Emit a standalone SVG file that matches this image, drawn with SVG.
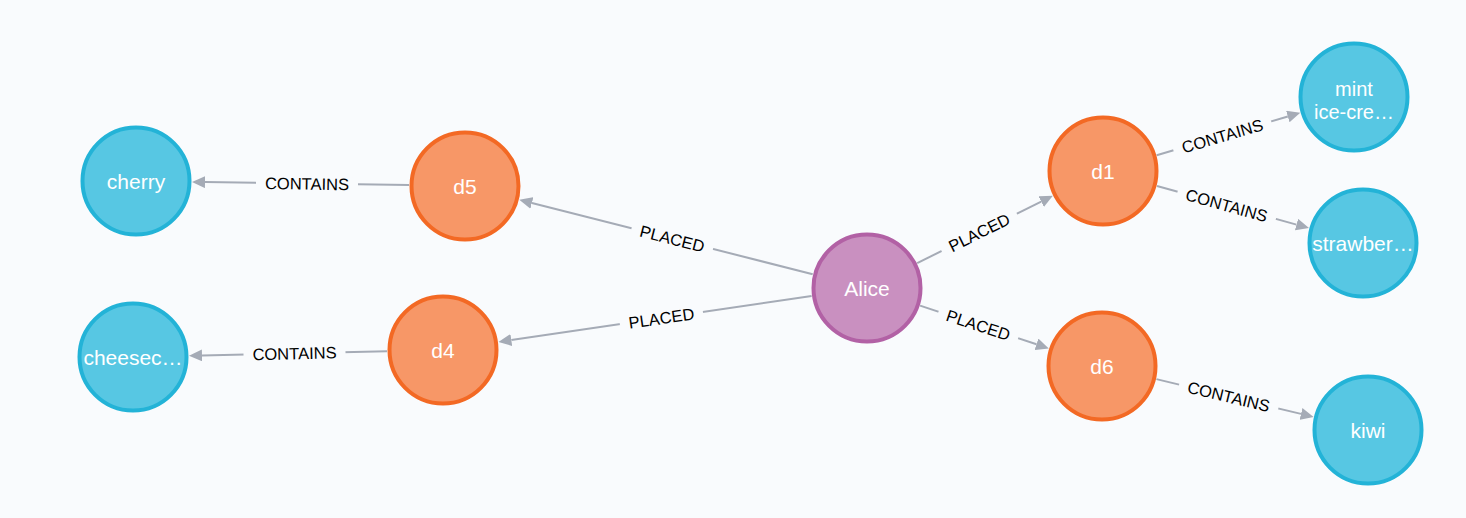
<svg xmlns="http://www.w3.org/2000/svg" width="1466" height="518" viewBox="0 0 1466 518">
<style>
.bg{fill:#f9fbfd}
.edge{stroke:#a5abb6;stroke-width:2;fill:none}
.lbl{font-family:"Liberation Sans",Arial,sans-serif;font-size:16.5px;fill:#000;text-anchor:middle}
.gap{fill:#f9fbfd}
.node text{font-family:"Liberation Sans",Arial,sans-serif;font-size:21px;fill:#fff;text-anchor:middle}
.node text.two{font-size:20px}
.person circle{fill:#c990c0;stroke:#b261a5;stroke-width:4}
.order circle{fill:#f79767;stroke:#f36924;stroke-width:4}
.item circle{fill:#57c7e3;stroke:#23b3d7;stroke-width:4}
</style>
<defs>
<marker id="arr" markerUnits="userSpaceOnUse" markerWidth="13" markerHeight="12" viewBox="0 -6 13 12" refX="0" refY="0" orient="auto">
<path d="M0,-6 L13,0 L0,6 z" fill="#a5abb6"/>
</marker>
</defs>
<rect class="bg" x="0" y="0" width="1466" height="518"/>
<g id="connectors">
<line class="edge" x1="812.7" y1="274.2" x2="531.9" y2="203.0" marker-end="url(#arr)"/>
<line class="edge" x1="811.6" y1="296.1" x2="511.3" y2="340.0" marker-end="url(#arr)"/>
<line class="edge" x1="917.2" y1="263.1" x2="1041.2" y2="201.6" marker-end="url(#arr)"/>
<line class="edge" x1="920.1" y1="305.6" x2="1036.5" y2="344.3" marker-end="url(#arr)"/>
<line class="edge" x1="409" y1="185.1" x2="205" y2="182.1" marker-end="url(#arr)"/>
<line class="edge" x1="387" y1="351.3" x2="202" y2="355.4" marker-end="url(#arr)"/>
<line class="edge" x1="1156.7" y1="155.2" x2="1287.8" y2="116.5" marker-end="url(#arr)"/>
<line class="edge" x1="1157" y1="186" x2="1296.5" y2="224.6" marker-end="url(#arr)"/>
<line class="edge" x1="1156.4" y1="379.1" x2="1301" y2="413.9" marker-end="url(#arr)"/>
<g transform="translate(672.3,238.6) rotate(14.24)"><rect class="gap" x="-42" y="-7" width="84" height="14"/><text class="lbl" x="0" y="6">PLACED</text></g>
<g transform="translate(661.4,318.1) rotate(-8.32)"><rect class="gap" x="-42" y="-7" width="84" height="14"/><text class="lbl" x="0" y="6">PLACED</text></g>
<g transform="translate(979.2,232.4) rotate(-26.37)"><rect class="gap" x="-42" y="-7" width="84" height="14"/><text class="lbl" x="0" y="6">PLACED</text></g>
<g transform="translate(978.3,325.0) rotate(18.36)"><rect class="gap" x="-42" y="-7" width="84" height="14"/><text class="lbl" x="0" y="6">PLACED</text></g>
<g transform="translate(307,183.6) rotate(0.87)"><rect class="gap" x="-51" y="-7" width="102" height="14"/><text class="lbl" x="0" y="6">CONTAINS</text></g>
<g transform="translate(294.5,353.3) rotate(-1.29)"><rect class="gap" x="-51" y="-7" width="102" height="14"/><text class="lbl" x="0" y="6">CONTAINS</text></g>
<g transform="translate(1222.3,135.9) rotate(-16.43)"><rect class="gap" x="-51" y="-7" width="102" height="14"/><text class="lbl" x="0" y="6">CONTAINS</text></g>
<g transform="translate(1226.7,205.3) rotate(15.48)"><rect class="gap" x="-51" y="-7" width="102" height="14"/><text class="lbl" x="0" y="6">CONTAINS</text></g>
<g transform="translate(1228.7,396.5) rotate(13.53)"><rect class="gap" x="-51" y="-7" width="102" height="14"/><text class="lbl" x="0" y="6">CONTAINS</text></g>
</g>
<g id="node-alice" class="node person"><circle cx="867" cy="288" r="53.5"/><text x="867" y="296">Alice</text></g>
<g id="node-d5" class="node order"><circle cx="465" cy="186" r="53.5"/><text x="465" y="194">d5</text></g>
<g id="node-d4" class="node order"><circle cx="443" cy="350" r="53.5"/><text x="443" y="358">d4</text></g>
<g id="node-d1" class="node order"><circle cx="1103" cy="171" r="53.5"/><text x="1103" y="179">d1</text></g>
<g id="node-d6" class="node order"><circle cx="1102" cy="366" r="53.5"/><text x="1102" y="374">d6</text></g>
<g id="node-cherry" class="node item"><circle cx="136" cy="181" r="53.5"/><text x="136" y="189">cherry</text></g>
<g id="node-cheesecake" class="node item"><circle cx="133" cy="357" r="53.5"/><text x="133" y="365">cheesec…</text></g>
<g id="node-mint" class="node item"><circle cx="1354" cy="97" r="53.5"/><text class="two" x="1354" y="95.5">mint</text><text class="two" x="1354" y="118.5">ice-cre…</text></g>
<g id="node-strawberry" class="node item"><circle cx="1363" cy="243" r="53.5"/><text x="1363" y="251">strawber…</text></g>
<g id="node-kiwi" class="node item"><circle cx="1368" cy="430" r="53.5"/><text x="1368" y="438">kiwi</text></g>
</svg>
